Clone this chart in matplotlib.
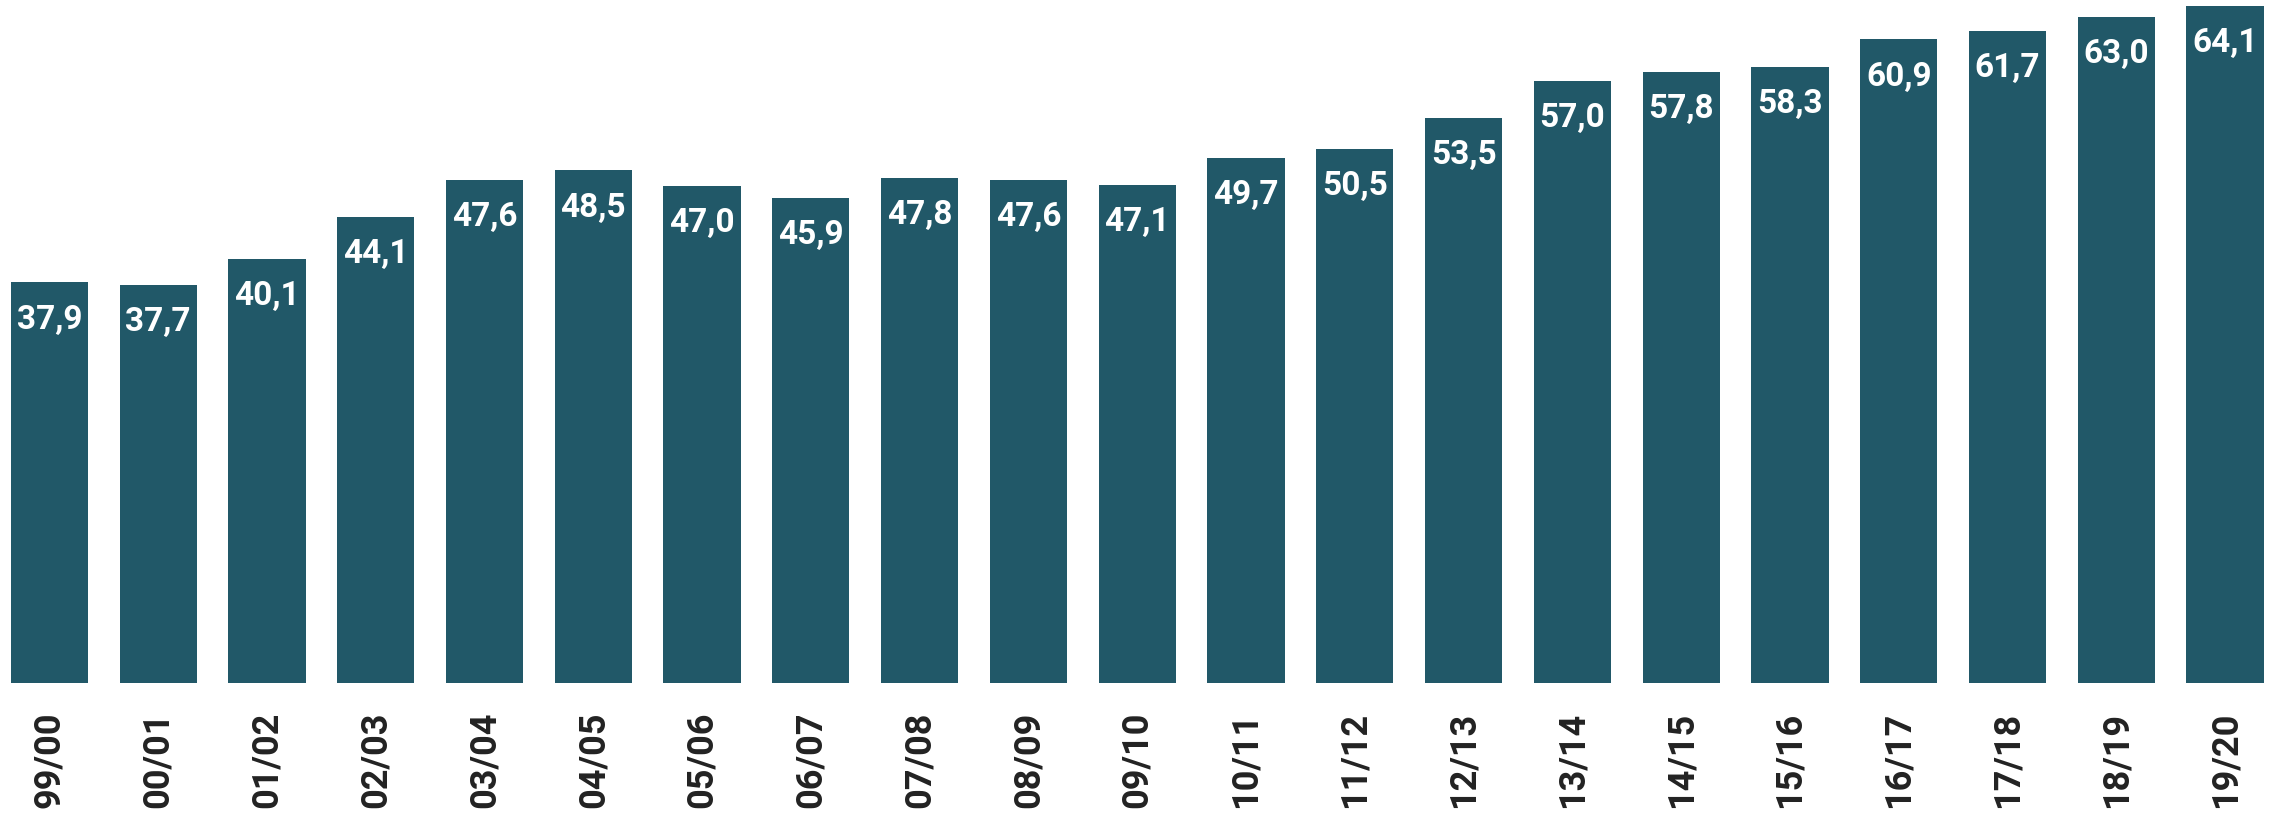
import matplotlib.pyplot as plt

seasons = ["99/00", "00/01", "01/02", "02/03", "03/04", "04/05", "05/06", "06/07",
           "07/08", "08/09", "09/10", "10/11", "11/12", "12/13", "13/14", "14/15",
           "15/16", "16/17", "17/18", "18/19", "19/20"]
values = [37.9, 37.7, 40.1, 44.1, 47.6, 48.5, 47.0, 45.9, 47.8, 47.6, 47.1,
          49.7, 50.5, 53.5, 57.0, 57.8, 58.3, 60.9, 61.7, 63.0, 64.1]

plt.rcParams['font.family'] = ['Roboto', 'DejaVu Sans']

fig = plt.figure(figsize=(22.79, 8.29), dpi=100)
ax = fig.add_axes([0.004, 0.175, 0.99, 0.817])
x = range(len(values))
ax.bar(x, values, width=0.71, color="#215868")
for xi, v in zip(x, values):
    ax.annotate(f"{v:.1f}".replace(".", ","), (xi, v), xytext=(0, -26),
                textcoords="offset points", ha="center", va="center",
                color="white", fontsize=24, fontweight="bold")

ax.set_xlim(-0.37, len(values) - 0.63)
ax.set_ylim(0, 64.1)
ax.set_xticks(list(x))
ax.set_xticklabels(seasons, rotation=90, fontsize=26, fontweight="bold", color="#222222")
ax.tick_params(axis="x", length=0, pad=20)
ax.set_yticks([])
for s in ax.spines.values():
    s.set_visible(False)

fig.savefig("out.png", dpi=100)
